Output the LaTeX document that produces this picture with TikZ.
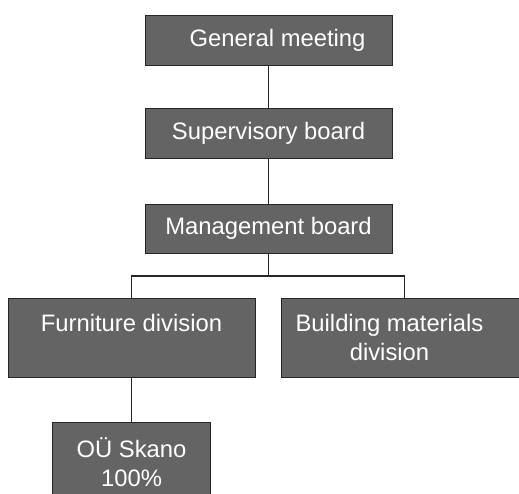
\documentclass[tikz,border=0pt]{standalone}
\usepackage{fontspec}
\setmainfont{Liberation Sans}
\definecolor{boxgray}{RGB}{100,100,100}
\begin{document}
\begin{tikzpicture}[x=1pt,y=-1pt,
  orgbox/.style={draw=black!85, line width=0.8pt, fill=boxgray, text=white,
    minimum width=247pt, inner sep=0pt, align=center,
    font=\fontsize{23.8}{28.5}\selectfont},
  link/.style={draw=black!85, line width=1.3pt}]
\clip (0,0) rectangle (519,493);
\fill[white] (0,0) rectangle (519,493);
\node[orgbox, minimum height=50pt] (gm) at (268.5,40) {\hspace*{18pt}General meeting};
\node[orgbox, minimum height=50pt] (sb) at (268.5,133) {Supervisory board};
\node[orgbox, minimum height=49pt] (mb) at (268.5,228.5) {Management board};
\node[orgbox, minimum height=79pt] (fd) at (131.5,337.5) {Furniture division\\ \mbox{}};
\node[orgbox, minimum height=79pt] (bd) at (404.5,337.5) {Building materials\hspace*{30pt}\\ division\hspace*{30pt}};
\node[orgbox, minimum width=158pt, minimum height=80pt] (sk) at (131.5,462) {OÜ Skano\\100\%};
\coordinate (split) at (268.5,276);
\draw[link] (gm.south) -- (sb.north);
\draw[link] (sb.south) -- (mb.north);
\draw[link] (mb.south) -- (split);
\draw[link] (fd.north) |- (split) -| (bd.north);
\draw[link] (fd.south) -- (sk.north);
\end{tikzpicture}
\end{document}
